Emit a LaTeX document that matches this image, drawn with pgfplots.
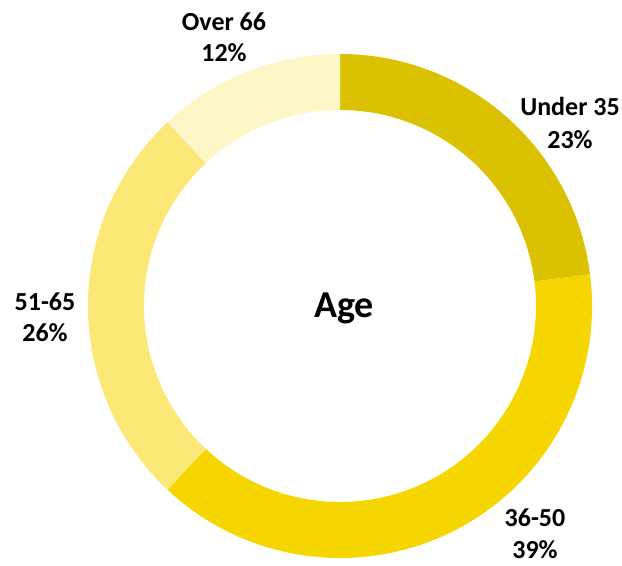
\documentclass[border=0pt]{standalone}
\usepackage{fontspec}
\setmainfont{Carlito}
\usepackage{pgfplots}
\usepackage{pgfplotstable}
\pgfplotsset{compat=1.18}

\definecolor{slice0}{RGB}{218,194,2}
\definecolor{slice1}{RGB}{245,214,0}
\definecolor{slice2}{RGB}{251,232,119}
\definecolor{slice3}{RGB}{253,246,199}

\pgfplotstableread{
label value
Under35 23
36-50 39
51-65 26
Over66 12
}\agedata

\begin{document}
\begin{tikzpicture}
\begin{axis}[
  x=1bp, y=1bp,
  xmin=-340, xmax=282, ymin=-255, ymax=306,
  hide axis, clip=false,
]
\path (axis cs:-340,-255) (axis cs:282,306);
\def\cum{0}
\pgfplotsforeachungrouped \i in {0,1,2,3}{%
  \pgfplotstablegetelem{\i}{value}\of\agedata
  \let\val\pgfplotsretval
  \pgfmathsetmacro\aone{90-3.6*\cum}%
  \pgfmathsetmacro\atwo{90-3.6*(\cum+\val)}%
  \pgfmathsetmacro\cum{\cum+\val}%
  \edef\temp{\noexpand\fill[slice\i] (axis cs:0,0) ++(\aone:252bp) arc[start angle=\aone, end angle=\atwo, radius=252bp] -- ++(\atwo:-56bp) arc[start angle=\atwo, end angle=\aone, radius=196bp] -- cycle;}%
  \temp
}
\begin{scope}[every node/.style={font=\fontsize{26bp}{31bp}\selectfont\bfseries, anchor=base, inner sep=0pt}]
\node at (axis cs:-116,275) {Over 66};
\node at (axis cs:-116,244) {12\%};
\node at (axis cs:230,190) {Under 35};
\node at (axis cs:230,157) {23\%};
\node at (axis cs:-295,-5) {51-65};
\node at (axis cs:-295,-36) {26\%};
\node at (axis cs:195,-220) {36-50};
\node at (axis cs:195,-252) {39\%};
\end{scope}
\node[font=\fontsize{38bp}{44bp}\selectfont\bfseries, anchor=base, inner sep=0pt] at (axis cs:4,-12) {Age};
\end{axis}
\end{tikzpicture}
\end{document}
